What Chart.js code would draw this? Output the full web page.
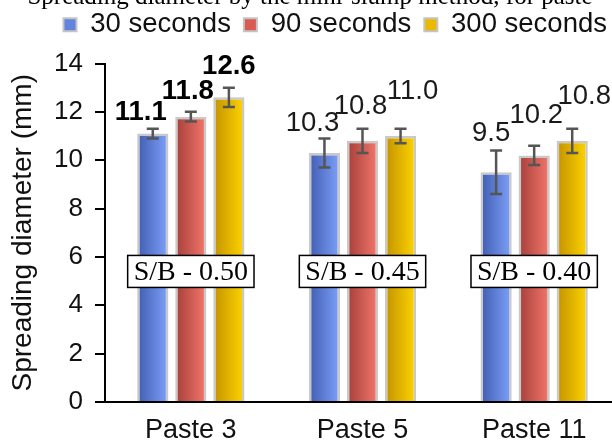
<!DOCTYPE html>
<html>
<head>
<meta charset="utf-8">
<script src="https://cdn.jsdelivr.net/npm/chart.js@4/dist/chart.umd.min.js"></script>
<style>
  html, body { margin: 0; padding: 0; background: #fff; overflow: hidden; width: 612px; height: 441px; }
  #wrap { position: relative; width: 612px; height: 441px; overflow: hidden; }
  #c { position: absolute; left: 0; top: -15px; }
</style>
</head>
<body>
<div id="wrap"><canvas id="c" width="640" height="456"></canvas></div>
<script>
// Spreading diameter (mm) per paste, measured at three times
const categories = ['Paste 3', 'Paste 5', 'Paste 11'];
const seriesNames = ['30 seconds', '90 seconds', '300 seconds'];
const spread30 = [11.1, 10.3, 9.5];
const spread90 = [11.8, 10.8, 10.2];
const spread300 = [12.6, 11.0, 10.8];
// standard deviations shown as error bars
const err30 = [0.2, 0.6, 0.9];
const err90 = [0.2, 0.5, 0.4];
const err300 = [0.4, 0.3, 0.5];
// sand / binder ratio of each paste
const ratioLabels = ['S/B - 0.50', 'S/B - 0.45', 'S/B - 0.40'];
const titleText = 'Spreading diameter by the mini-slump method, for paste';

const values = [spread30, spread90, spread300];
const errors = [err30, err90, err300];

const SANS = '"Liberation Sans", Arial, sans-serif';
const SERIF = '"Liberation Serif", "Times New Roman", serif';
const CAT_PCT = 0.665;
const BAR_PCT = 0.82;

const gradStops = [
  ['#3f5cb0', '#7fa1fb'],
  ['#a43f39', '#f5776c'],
  ['#c29200', '#ffd500']
];
const solidFill = ['#6384dd', '#d95c53', '#ebb900'];

function barFill(i) {
  return (ctx) => {
    const chart = ctx.chart;
    const area = chart.chartArea;
    const xs = chart.scales && chart.scales.x;
    if (!area || !xs || ctx.type !== 'data') return solidFill[i];
    const band = (area.right - area.left) / categories.length;
    const slot = band * CAT_PCT / 3;
    const cx = xs.getPixelForValue(ctx.dataIndex) + (i - 1) * slot;
    const half = slot * BAR_PCT / 2;
    if (!isFinite(cx)) return solidFill[i];
    const g = chart.ctx.createLinearGradient(cx - half, 0, cx + half, 0);
    g.addColorStop(0, gradStops[i][0]);
    g.addColorStop(1, gradStops[i][1]);
    return g;
  };
}

// error bars with caps
const errorBars = {
  id: 'errorBars',
  afterDatasetsDraw(chart, args, opts) {
    const ctx = chart.ctx;
    const ys = chart.scales.y;
    ctx.save();
    ctx.strokeStyle = opts.color;
    ctx.lineWidth = opts.width;
    chart.data.datasets.forEach((ds, i) => {
      chart.getDatasetMeta(i).data.forEach((bar, j) => {
        const v = values[i][j], e = errors[i][j];
        const yt = ys.getPixelForValue(v + e);
        const yb = ys.getPixelForValue(v - e);
        const h = opts.cap / 2;
        ctx.beginPath();
        ctx.moveTo(bar.x, yt); ctx.lineTo(bar.x, yb);
        ctx.moveTo(bar.x - h, yt); ctx.lineTo(bar.x + h, yt);
        ctx.moveTo(bar.x - h, yb); ctx.lineTo(bar.x + h, yb);
        ctx.stroke();
      });
    });
    ctx.restore();
  }
};

// value labels above the error bars
const valueLabels = {
  id: 'valueLabels',
  afterDatasetsDraw(chart, args, opts) {
    const ctx = chart.ctx;
    const ys = chart.scales.y;
    ctx.save();
    ctx.textAlign = 'center';
    ctx.textBaseline = 'alphabetic';
    chart.data.datasets.forEach((ds, i) => {
      chart.getDatasetMeta(i).data.forEach((bar, j) => {
        const v = values[i][j], e = errors[i][j];
        const [dx, rise] = opts.nudge[i][j];
        const bold = j === 0;
        ctx.font = (bold ? 'bold ' : '') + opts.size + 'px ' + SANS;
        ctx.fillStyle = bold ? '#000' : '#1a1a1a';
        ctx.fillText(v.toFixed(1), bar.x + dx, ys.getPixelForValue(v + e) - rise);
      });
    });
    ctx.restore();
  }
};

// boxed S/B ratio notes over each group
const ratioBoxes = {
  id: 'ratioBoxes',
  afterDatasetsDraw(chart, args, opts) {
    const ctx = chart.ctx;
    const xs = chart.scales.x, ys = chart.scales.y;
    ctx.save();
    ctx.font = opts.size + 'px ' + SERIF;
    ctx.textAlign = 'center';
    ctx.textBaseline = 'middle';
    ratioLabels.forEach((t, j) => {
      const cx = xs.getPixelForValue(j);
      const cy = ys.getPixelForValue(opts.level);
      const w = ctx.measureText(t).width + 2 * opts.padX;
      const h = opts.height;
      ctx.fillStyle = '#fff';
      ctx.fillRect(cx - w / 2, cy - h / 2, w, h);
      ctx.strokeStyle = '#000';
      ctx.lineWidth = 1.5;
      ctx.strokeRect(cx - w / 2, cy - h / 2, w, h);
      ctx.fillStyle = '#000';
      ctx.fillText(t, cx, cy + 1);
    });
    ctx.restore();
  }
};

new Chart(document.getElementById('c'), {
  type: 'bar',
  data: {
    labels: categories,
    datasets: seriesNames.map((name, i) => ({
      label: name,
      data: values[i],
      backgroundColor: barFill(i),
      borderColor: '#c9c9c9',
      borderWidth: 2.5,
      categoryPercentage: CAT_PCT,
      barPercentage: BAR_PCT
    }))
  },
  plugins: [errorBars, valueLabels, ratioBoxes],
  options: {
    responsive: false,
    devicePixelRatio: 1,
    animation: false,
    layout: { padding: { left: 0, right: 20, top: 0, bottom: 0 } },
    plugins: {
      title: {
        display: true,
        text: titleText,
        align: 'center',
        color: '#000',
        font: { family: SERIF, size: 25, weight: 'normal', lineHeight: 1 },
        padding: { top: 0, bottom: -12 }
      },
      subtitle: {
        display: true,
        text: '',
        weight: 500,
        font: { size: 15, lineHeight: 1 },
        padding: 0
      },
      legend: {
        display: true,
        position: 'top',
        align: 'end',
        labels: {
          boxWidth: 13,
          boxHeight: 13,
          padding: 13,
          color: '#111',
          font: { family: SANS, size: 27.5 },
          generateLabels(chart) {
            return chart.data.datasets.map((ds, i) => ({
              text: ds.label,
              fillStyle: solidFill[i],
              strokeStyle: '#c4c4c4',
              lineWidth: 2,
              fontColor: '#111',
              hidden: !chart.isDatasetVisible(i),
              datasetIndex: i
            }));
          }
        }
      },
      tooltip: { enabled: false },
      errorBars: { color: '#555', width: 2.5, cap: 12 },
      valueLabels: {
        size: 27.5,
        nudge: [
          [[-12, 9], [-12, 7], [-5, 10]],
          [[-3, 13], [-2, 15], [2, 23]],
          [[0, 14], [12, 30], [12, 25]]
        ]
      },
      ratioBoxes: { size: 28, level: 5.4, padX: 6, height: 32 }
    },
    scales: {
      x: {
        type: 'category',
        offset: true,
        grid: { display: false, drawTicks: false },
        border: { display: true, color: '#000', width: 2 },
        ticks: { color: '#111', font: { family: SANS, size: 27 }, padding: 12 },
        afterFit(s) { s.height = 39; }
      },
      y: {
        min: 0,
        max: 14,
        ticks: { stepSize: 2, color: '#111', font: { family: SANS, size: 26 }, padding: 12 },
        grid: { display: true, drawOnChartArea: false, drawTicks: true, tickLength: 10, color: '#000', lineWidth: 2 },
        border: { display: true, color: '#000', width: 2 },
        title: {
          display: true,
          text: 'Spreading diameter (mm)',
          color: '#111',
          font: { family: SANS, size: 28 },
          padding: { top: 6, bottom: 0 }
        },
        afterFit(s) { s.width = 105; }
      }
    }
  }
});
</script>
</body>
</html>
